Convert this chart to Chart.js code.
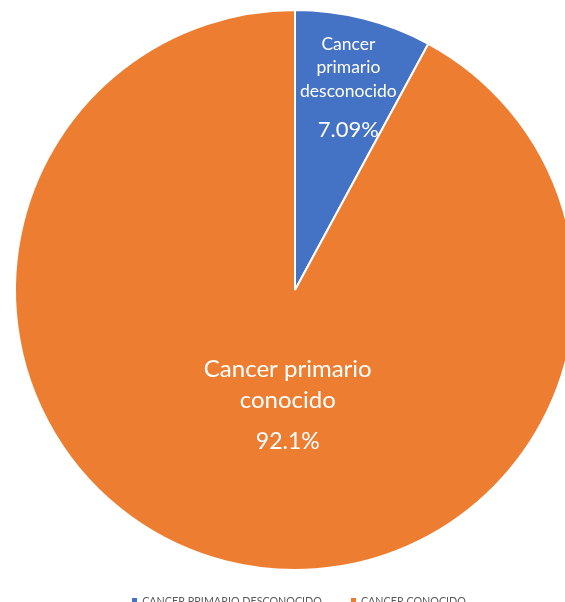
<!DOCTYPE html>
<html>
<head>
<meta charset="utf-8">
<script src="https://cdn.jsdelivr.net/npm/chart.js@4"></script>
<style>
  html, body { margin: 0; padding: 0; background: #fff; overflow: hidden; }
  #wrap { position: relative; width: 600px; height: 602px; }
  #legend {
    position: absolute; left: 0; width: 598px; top: 594px;
    text-align: center; font-family: Lato, sans-serif; font-size: 10.75px;
    color: #595959; white-space: nowrap; line-height: 13px;
  }
  #legend span.item { margin: 0 14.5px; }
  #legend span.box { display: inline-block; width: 5px; height: 5px; margin-right: 5px; vertical-align: 2px; }
</style>
</head>
<body>
<div id="wrap">
  <canvas id="chart" width="590" height="602"></canvas>
  <div id="legend"></div>
</div>
<script>
const categories = ['Cancer primario desconocido', 'Cancer primario conocido'];
const legendNames = ['CANCER PRIMARIO DESCONOCIDO', 'CANCER CONOCIDO'];
const values = [7.9, 92.1];
const valueLabels = ['7.09%', '92.1%'];
const labelLines = [['Cancer', 'primario', 'desconocido'], ['Cancer primario', 'conocido']];
const colors = ['#4472C4', '#ED7D31'];

// labels drawn inside each slice
const sliceLabels = {
  id: 'sliceLabels',
  afterDatasetsDraw(chart) {
    const ctx = chart.ctx;
    const meta = chart.getDatasetMeta(0);
    const cfg = [
      { r: 0.747, dx: 2, size: 17.5, lh: 23.5, valGap: 39, valSize: 22 },
      { r: 0.425, dx: 22, size: 24, lh: 31, valGap: 41, valSize: 23 }
    ];
    meta.data.forEach((arc, i) => {
      const c = cfg[i];
      const mid = (arc.startAngle + arc.endAngle) / 2;
      const rr = arc.outerRadius * c.r;
      const x = arc.x + Math.cos(mid) * rr + c.dx;
      const y = arc.y + Math.sin(mid) * rr;
      const lines = labelLines[i];
      const span = (lines.length - 1) * c.lh + c.valGap;
      let yy = y - span / 2;
      ctx.save();
      ctx.fillStyle = '#fff';
      ctx.textAlign = 'center';
      ctx.textBaseline = 'middle';
      ctx.font = c.size + 'px Lato, sans-serif';
      lines.forEach((l, k) => {
        ctx.fillText(l, x, yy);
        if (k < lines.length - 1) yy += c.lh;
      });
      yy += c.valGap;
      ctx.font = c.valSize + 'px Lato, sans-serif';
      ctx.fillText(valueLabels[i], x, yy);
      ctx.restore();
    });
  }
};

new Chart(document.getElementById('chart'), {
  type: 'pie',
  data: {
    labels: categories,
    datasets: [{
      data: values,
      backgroundColor: colors,
      borderColor: '#fff',
      borderWidth: 2
    }]
  },
  options: {
    responsive: false,
    animation: false,
    layout: { padding: { top: 9, left: 14, right: 14, bottom: 31 } },
    plugins: { legend: { display: false }, tooltip: { enabled: false } }
  },
  plugins: [sliceLabels]
});

document.getElementById('legend').innerHTML = legendNames.map((n, i) =>
  '<span class="item"><span class="box" style="background:' + colors[i] + '"></span>' + n + '</span>'
).join('');
</script>
</body>
</html>
